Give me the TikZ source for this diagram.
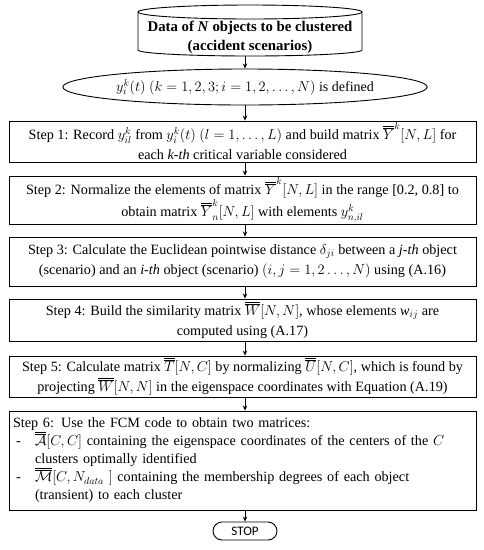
\documentclass[tikz,border=0pt]{standalone}
\usepackage{fontspec}
\setmainfont{Liberation Serif}
\newfontfamily\stopfont{Carlito}
\usetikzlibrary{arrows.meta,shapes.geometric}
\newcommand{\dbl}[1]{\overline{\overline{#1}}}
\begin{document}
\begin{tikzpicture}[x=1pt,y=-1pt,
  txt/.style={font=\fontsize{14.2}{20}\selectfont},
  box/.style={draw, line width=0.9pt, minimum width=467pt, inner sep=0pt, align=center, txt},
  arr/.style={-{Stealth[length=5pt,width=4.5pt]}, line width=0.7pt},
  ln/.style={line width=0.9pt}]
\useasboundingbox (0,0) rectangle (483,550);
% cylinder
\draw[ln] (250,12) ellipse [x radius=112pt, y radius=7pt];
\draw[ln] (138,12) -- (138,50) arc[start angle=180, end angle=360, x radius=112pt, y radius=6pt] -- (362,12);
\node[align=center, font=\fontsize{14.8}{19}\selectfont\bfseries] (data) at (250,37.5) {Data of \textit{N} objects to be clustered\\(accident scenarios)};
\coordinate (cb) at (245,56);
% ellipse
\node[ellipse, draw, ln, minimum width=336pt, minimum height=36pt, inner sep=0pt, font=\fontsize{14}{18}\selectfont] (ell) at (245,87)
  {$y_i^k(t)\ (k = 1, 2, 3; i = 1,2, \ldots, N)$ is defined};
% boxes
\node[box, minimum height=41pt] (s1) at (242.5,141.5)
  {Step 1: Record $y_{il}^k$ from $y_i^k(t)\ (l = 1, \ldots, L)$ and build matrix $\dbl{Y}^k[N,L]$ for\\
   each \textit{k-th} critical variable considered};
\node[box, minimum height=48pt] (s2) at (242.5,200)
  {Step 2: Normalize the elements of matrix $\dbl{Y}^k[N,L]$ in the range [0.2, 0.8] to\\
   obtain matrix $\dbl{Y}_n^k[N,L]$ with elements $y_{n,il}^k$};
\node[box, minimum height=49pt] (s3) at (242.5,261.5)
  {Step 3: Calculate the Euclidean pointwise distance $\delta_{ji}$ between a \textit{j-th} object\\
   (scenario) and an \textit{i-th} object (scenario) $(i, j = 1,2 \ldots, N)$ using (A.16)};
\node[box, minimum height=42pt] (s4) at (242.5,320)
  {Step 4: Build the similarity matrix $\dbl{W}[N,N]$, whose elements \textit{w}$_{ij}$ are\\
   computed using (A.17)};
\node[box, minimum height=41pt] (s5) at (242.5,376.5)
  {Step 5: Calculate matrix $\dbl{T}[N,C]$ by normalizing $\dbl{U}[N,C]$, which is found by\\
   projecting $\dbl{W}[N,N]$ in the eigenspace coordinates with Equation (A.19)};
\node[box, minimum height=99pt, align=left, text width=459pt, inner xsep=4pt, font=\fontsize{14.2}{18}\selectfont] (s6) at (242.5,460.5)
  {Step 6: Use the FCM code to obtain two matrices:\\
   \makebox[22pt][l]{\hspace{3pt}-}$\dbl{\mathcal{A}}[C,C]$ containing the eigenspace coordinates of the centers of the $C$\\
   \hspace*{22pt}clusters optimally identified\\
   \makebox[22pt][l]{\hspace{3pt}-}$\dbl{\mathcal{M}}[C, N_{data}\ ]$ containing the membership degrees of each object\\
   \hspace*{22pt}(transient) to each cluster};
\node[draw, ln, rounded corners=9pt, minimum width=64pt, minimum height=18pt, inner sep=0pt, font=\stopfont\fontsize{13}{14}\selectfont] (stop) at (245,531) {STOP};
% arrows
\draw[arr] (cb) -- (ell.north);
\draw[arr] (ell.south) -- (s1.north -| ell.south);
\draw[arr] (s1.south -| ell.south) -- (s2.north -| ell.south);
\draw[arr] (s2.south -| ell.south) -- (s3.north -| ell.south);
\draw[arr] (s3.south -| ell.south) -- (s4.north -| ell.south);
\draw[arr] (s4.south -| ell.south) -- (s5.north -| ell.south);
\draw[arr] (s5.south -| ell.south) -- (s6.north -| ell.south);
\draw[arr] (s6.south -| stop.north) -- (stop.north);
\end{tikzpicture}
\end{document}
